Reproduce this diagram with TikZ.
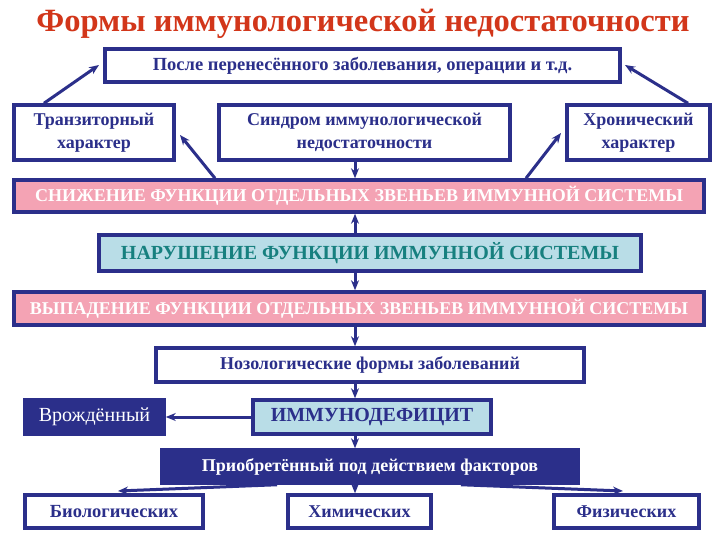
\documentclass[tikz,border=0pt]{standalone}
\usepackage{fontspec}
\setmainfont{Liberation Serif}
\usetikzlibrary{arrows.meta}
\definecolor{navy}{HTML}{2B2F8A}
\definecolor{pinkf}{HTML}{F4A3B4}
\definecolor{lblue}{HTML}{B9DDE7}
\definecolor{tealt}{HTML}{17807F}
\definecolor{titler}{HTML}{D2361A}
\begin{document}
\begin{tikzpicture}[x=1pt,y=-1pt,
  box/.style={draw=navy,line width=3.5pt,fill=white,text=navy,inner sep=0pt,align=center},
  pinkbar/.style={box,fill=pinkf,text=white,font=\bfseries\fontsize{18}{20}\selectfont},
  bluebox/.style={box,fill=lblue},
  darkbox/.style={box,fill=navy,text=white},
  arr/.style={draw=navy,line width=3pt,-{Stealth[length=10pt,width=8pt]}}]
\useasboundingbox (0,0) rectangle (720,540);
\fill[white] (0,0) rectangle (720,540);
\node[text=titler,font=\bfseries\fontsize{32.5}{34}\selectfont] (title) at (363,24) {Формы иммунологической недостаточности};
\node[box,minimum width=515pt,minimum height=33pt,font=\bfseries\fontsize{18.5}{20}\selectfont] (b1) at (362.5,65.5) {После перенесённого заболевания, операции и т.д.};
\node[box,minimum width=160pt,minimum height=55pt,font=\bfseries\fontsize{18}{23}\selectfont] (tr) at (94,132.5) {Транзиторный\\характер};
\node[box,minimum width=291pt,minimum height=55pt,font=\bfseries\fontsize{18}{23}\selectfont] (syn) at (364.5,132.5) {Синдром иммунологической\\недостаточности};
\node[box,minimum width=143pt,minimum height=55pt,font=\bfseries\fontsize{18}{23}\selectfont] (chr) at (638.5,132.5) {Хронический\\характер};
\node[pinkbar,minimum width=690pt,minimum height=32pt] (sn) at (359,196) {СНИЖЕНИЕ ФУНКЦИИ ОТДЕЛЬНЫХ ЗВЕНЬЕВ ИММУННОЙ СИСТЕМЫ};
\node[bluebox,text=tealt,minimum width=542pt,minimum height=36pt,font=\bfseries\fontsize{20}{22}\selectfont] (nar) at (370,253) {НАРУШЕНИЕ ФУНКЦИИ ИММУННОЙ СИСТЕМЫ};
\node[pinkbar,minimum width=690pt,minimum height=33pt] (vyp) at (359,308.5) {ВЫПАДЕНИЕ ФУНКЦИИ ОТДЕЛЬНЫХ ЗВЕНЬЕВ ИММУННОЙ СИСТЕМЫ};
\node[box,minimum width=428pt,minimum height=34pt,font=\bfseries\fontsize{18}{20}\selectfont] (noz) at (370,365) {Нозологические формы заболеваний};
\node[bluebox,minimum width=238pt,minimum height=34pt,font=\bfseries\fontsize{20}{22}\selectfont] (imm) at (372,417) {ИММУНОДЕФИЦИТ};
\node[darkbox,minimum width=139pt,minimum height=34pt,font=\fontsize{20}{22}\selectfont] (vr) at (94.5,417) {Врождённый};
\node[darkbox,minimum width=416pt,minimum height=33pt,font=\bfseries\fontsize{18}{20}\selectfont] (pr) at (370,466.5) {Приобретённый под действием факторов};
\node[box,minimum width=178pt,minimum height=33pt,font=\bfseries\fontsize{18.5}{20}\selectfont] (bio) at (114,511.5) {Биологических};
\node[box,minimum width=143pt,minimum height=33pt,font=\bfseries\fontsize{18}{20}\selectfont] (him) at (359.5,511.5) {Химических};
\node[box,minimum width=145pt,minimum height=33pt,font=\bfseries\fontsize{18}{20}\selectfont] (fiz) at (626.5,511.5) {Физических};
% helper coordinates
\coordinate (ax) at (355,0);
\coordinate (trs) at (44,0);
\coordinate (chs) at (688,0);
\coordinate (tip1) at (99,65);
\coordinate (tip2) at (625,65);
\coordinate (snl) at (215,0);
\coordinate (snr) at (526,0);
\coordinate (tip3) at (180,135);
\coordinate (tip4) at (561,133);
\coordinate (prl) at (277,0);
\coordinate (prr) at (461,0);
\coordinate (tip5) at (118,491);
\coordinate (tip6) at (623,491);
% arrows
\draw[arr] (tr.north -| trs) -- (tip1);
\draw[arr] (chr.north -| chs) -- (tip2);
\draw[arr] (sn.north -| snl) -- (tip3);
\draw[arr] (sn.north -| snr) -- (tip4);
\draw[arr] (syn.south -| ax) -- (sn.north -| ax);
\draw[arr] (nar.north -| ax) -- (sn.south -| ax);
\draw[arr] (nar.south -| ax) -- (vyp.north -| ax);
\draw[arr] (vyp.south -| ax) -- (noz.north -| ax);
\draw[arr] (noz.south -| ax) -- (imm.north -| ax);
\draw[arr] (imm.west) -- (vr.east);
\draw[arr] (imm.south -| ax) -- (pr.north -| ax);
\draw[arr] (pr.south -| prl) -- (tip5);
\draw[arr] (pr.south -| ax) -- (him.north -| ax);
\draw[arr] (pr.south -| prr) -- (tip6);
\end{tikzpicture}
\end{document}
